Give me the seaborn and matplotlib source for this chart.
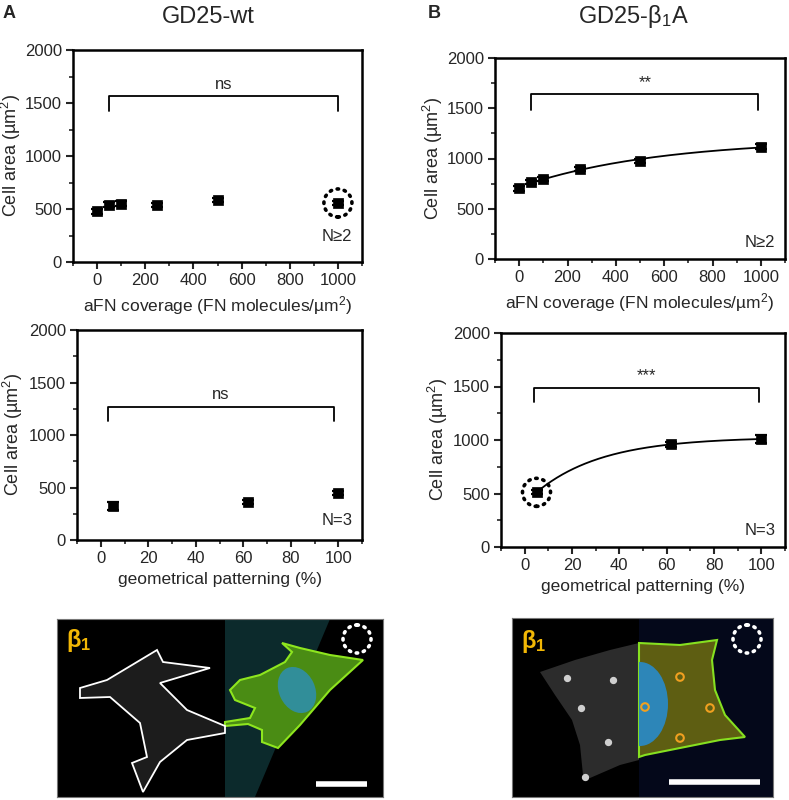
import numpy as np
import pandas as pd
import matplotlib
matplotlib.use("Agg")
import matplotlib.pyplot as plt
import matplotlib.patches as mpatches
from matplotlib.transforms import ScaledTranslation
from matplotlib.ticker import MultipleLocator
import seaborn as sns

# ---- data ----
coverage = [0, 50, 100, 250, 500, 1000]
wt_cov_area = [479, 542, 551, 535, 583, 557]
wt_cov_err = [22, 20, 20, 20, 20, 20]
b1a_cov_area = [703, 766, 795, 898, 977, 1115]
b1a_cov_err = [22, 22, 22, 22, 22, 25]

patterning = [5, 62, 100]
wt_pat_area = [324, 359, 448]
wt_pat_err = [35, 20, 20]
b1a_pat_area = [511, 959, 1010]
b1a_pat_err = [20, 22, 40]

# significance brackets: (x_left, x_right, y_top, y_leg_bottom, label)
brackets = {
    "wt_cov": (50, 1000, 1568, 1424, "ns"),
    "b1a_cov": (50, 990, 1637, 1485, "**"),
    "wt_pat": (3, 98, 1270, 1137, "ns"),
    "b1a_pat": (4, 99, 1489, 1357, "***"),
}
n_labels = {"wt_cov": "N≥2", "b1a_cov": "N≥2", "wt_pat": "N=3", "b1a_pat": "N=3"}

W, H = 789, 800
sns.set_theme(style="ticks")
plt.rcParams["font.family"] = ["Liberation Sans", "DejaVu Sans"]
plt.rcParams["mathtext.default"] = "regular"

fig = plt.figure(figsize=(W / 100, H / 100), dpi=100)


def px_axes(l, t, r, b):
    return fig.add_axes([l / W, 1 - b / H, (r - l) / W, (b - t) / H])


def sat_fit(x, y):
    # saturating fit y = a - b*exp(-x/t), grid over t, least squares for a, b
    x = np.asarray(x, float)
    y = np.asarray(y, float)
    best = None
    for t in np.linspace(5, 3000, 3000):
        M = np.column_stack([np.ones_like(x), -np.exp(-x / t)])
        coef, *_ = np.linalg.lstsq(M, y, rcond=None)
        res = np.sum((M @ coef - y) ** 2)
        if best is None or res < best[0]:
            best = (res, coef, t)
    _, (a, b), t = best
    return lambda xx: a - b * np.exp(-np.asarray(xx) / t)


def dotted_circle(ax, x, y, color="black", r=0.14):
    trans = fig.dpi_scale_trans + ScaledTranslation(x, y, ax.transData)
    c = mpatches.Circle((0, 0), r, transform=trans, fill=False, edgecolor=color,
                        linewidth=2.6, linestyle=(0, (0.4, 1.6)), capstyle="round",
                        clip_on=False, zorder=5)
    ax.add_patch(c)


def style_axes(ax, xlim, xmaj, xmin, xlabel, label_px, l, r):
    ax.set_xlim(*xlim)
    ax.set_ylim(0, 2000)
    ax.xaxis.set_major_locator(MultipleLocator(xmaj))
    ax.xaxis.set_minor_locator(MultipleLocator(xmin))
    ax.yaxis.set_major_locator(MultipleLocator(500))
    ax.yaxis.set_minor_locator(MultipleLocator(250))
    ax.tick_params(which="major", direction="out", length=5, width=1.5, labelsize=12, pad=3)
    ax.tick_params(which="minor", direction="out", length=3, width=1.2)
    for s in ax.spines.values():
        s.set_visible(True)
        s.set_linewidth(1.8)
        s.set_color("black")
    ax.set_xlabel(xlabel, fontsize=12.5, labelpad=4)
    ax.set_ylabel("Cell area (µm$^2$)", fontsize=13)
    ax.yaxis.set_label_coords((label_px - l) / (r - l), 0.5)


def draw_panel(ax, x, y, err, key, xlim, xmaj, xmin, xlabel, box, label_px,
               fit_from=None, n_pos=None):
    ax.errorbar(x, y, yerr=err, fmt="none", ecolor="black", elinewidth=1.6,
                capsize=4, capthick=1.6, zorder=3)
    sns.scatterplot(x=x, y=y, marker="s", s=42, color="black", edgecolor="black",
                    linewidth=0.5, ax=ax, zorder=4, legend=False)
    if fit_from is not None:
        f = sat_fit(x, y)
        xx = np.linspace(fit_from, max(x), 200)
        sns.lineplot(x=xx, y=f(xx), color="black", linewidth=1.3, ax=ax, zorder=2)
    x1, x2, yt, yb, lab = brackets[key]
    ax.plot([x1, x1, x2, x2], [yb, yt, yt, yb], color="black", linewidth=1.3)
    ax.text((x1 + x2) / 2, yt + 40, lab, ha="center", va="bottom", fontsize=12)
    ax.text(n_pos[0], n_pos[1], n_labels[key], ha="right", va="center", fontsize=12)
    style_axes(ax, xlim, xmaj, xmin, xlabel, label_px, box[0], box[2])


cov_label = "aFN coverage (FN molecules/µm$^2$)"
pat_label = "geometrical patterning (%)"

box1 = (73, 50, 362, 262)
ax1 = px_axes(*box1)
draw_panel(ax1, coverage, wt_cov_area, wt_cov_err, "wt_cov", (-100, 1100), 200, 100,
           cov_label, box1, 23, n_pos=(1060, 240))
dotted_circle(ax1, 1000, wt_cov_area[-1])

box2 = (77, 330, 362, 540)
ax2 = px_axes(*box2)
draw_panel(ax2, patterning, wt_pat_area, wt_pat_err, "wt_pat", (-10, 110), 20, 10,
           pat_label, box2, 25, n_pos=(106, 190))

box3 = (495, 58, 785, 259)
ax3 = px_axes(*box3)
draw_panel(ax3, coverage, b1a_cov_area, b1a_cov_err, "b1a_cov", (-100, 1100), 200, 100,
           cov_label, box3, 445, fit_from=50, n_pos=(1060, 160))

box4 = (501, 333, 785, 547)
ax4 = px_axes(*box4)
draw_panel(ax4, patterning, b1a_pat_area, b1a_pat_err, "b1a_pat", (-10, 110), 20, 10,
           pat_label, box4, 450, fit_from=5, n_pos=(106, 150))
dotted_circle(ax4, 5, b1a_pat_area[0])

# titles and panel letters
fig.text(208 / W, 1 - 17 / H, "GD25-wt", ha="center", va="center", fontsize=17)
fig.text(633 / W, 1 - 17 / H, "GD25-β$_1$A", ha="center", va="center", fontsize=17)
fig.text(3 / W, 1 - 14 / H, "A", ha="left", va="center", fontsize=13, fontweight="bold")
fig.text(428 / W, 1 - 14 / H, "B", ha="left", va="center", fontsize=13, fontweight="bold")


# ---- microscopy panels (schematic) ----
def img_axes(l, t, r, b):
    ax = px_axes(l, t, r, b)
    ax.set_xlim(l, r)
    ax.set_ylim(b, t)
    ax.set_xticks([])
    ax.set_yticks([])
    ax.set_facecolor("black")
    for s in ax.spines.values():
        s.set_color("#777777")
        s.set_linewidth(0.8)
    return ax


axA = img_axes(57, 619, 383, 797)
axA.add_patch(mpatches.Polygon([(225, 619), (330, 619), (255, 797), (225, 797)],
                               closed=True, color="#0c2a2c", lw=0))
green_cell = [(225, 726), (248, 724), (262, 730), (262, 742), (278, 748), (300, 725),
              (330, 690), (363, 660), (330, 655), (300, 648), (282, 643), (292, 652),
              (285, 662), (260, 675), (240, 680), (230, 690), (235, 700), (255, 708),
              (250, 718), (225, 722)]
axA.add_patch(mpatches.Polygon(green_cell, closed=True, facecolor="#4a8c14",
                               edgecolor="#8ee61e", lw=1.5))
axA.add_patch(mpatches.Ellipse((297, 690), 36, 48, angle=-25, facecolor="#2f8fa8",
                               edgecolor="none", alpha=0.9))
white_cell = [(80, 688), (107, 680), (157, 650), (163, 662), (210, 668), (160, 683),
              (187, 710), (225, 726), (225, 733), (187, 740), (160, 762), (143, 792),
              (132, 763), (147, 757), (140, 723), (110, 697), (80, 698)]
axA.add_patch(mpatches.Polygon(white_cell, closed=True, facecolor="#1c1c1c",
                               edgecolor="white", lw=1.3))
axA.plot([316, 367], [784, 784], color="white", lw=4, solid_capstyle="butt")
axA.add_patch(mpatches.Circle((357, 639), 14, fill=False, edgecolor="white", lw=2.6,
                              linestyle=(0, (0.4, 1.6)), capstyle="round"))
axA.text(66, 640, "β$_1$", color="#f2b705", fontsize=17, fontweight="bold",
         ha="left", va="center")

axB = img_axes(512, 618, 773, 797)
axB.add_patch(mpatches.Rectangle((639, 618), 134, 179, color="#04081a", lw=0))
gray_cell = [(540, 672), (575, 660), (610, 650), (639, 643), (639, 760), (620, 765),
             (590, 778), (583, 775), (580, 745), (572, 720), (555, 695)]
axB.add_patch(mpatches.Polygon(gray_cell, closed=True, facecolor="#2c2c2c", edgecolor="none"))
color_cell = [(639, 643), (680, 645), (717, 640), (712, 660), (715, 690), (725, 715),
              (745, 737), (720, 740), (680, 748), (645, 755), (639, 757)]
axB.add_patch(mpatches.Polygon(color_cell, closed=True, facecolor="#5e5e12",
                               edgecolor="#86e020", lw=1.5))
nuc = mpatches.Ellipse((640, 704), 56, 84, facecolor="#2d86b8", edgecolor="none")
axB.add_patch(nuc)
nuc.set_clip_path(mpatches.Rectangle((639, 618), 134, 179, transform=axB.transData))
axB.scatter([680, 645, 710, 680], [677, 707, 708, 738], s=30, facecolors="none",
            edgecolors="#f0a020", linewidths=1.5)
axB.scatter([567, 613, 581, 585, 608], [678, 680, 708, 777, 742], s=18, color="#cfcfcf")
axB.plot([669, 760], [782, 782], color="white", lw=4, solid_capstyle="butt")
axB.add_patch(mpatches.Circle((747, 639), 14, fill=False, edgecolor="white", lw=2.6,
                              linestyle=(0, (0.4, 1.6)), capstyle="round"))
axB.text(521, 642, "β$_1$", color="#f2b705", fontsize=17, fontweight="bold",
         ha="left", va="center")

fig.savefig("out.png", dpi=100)
